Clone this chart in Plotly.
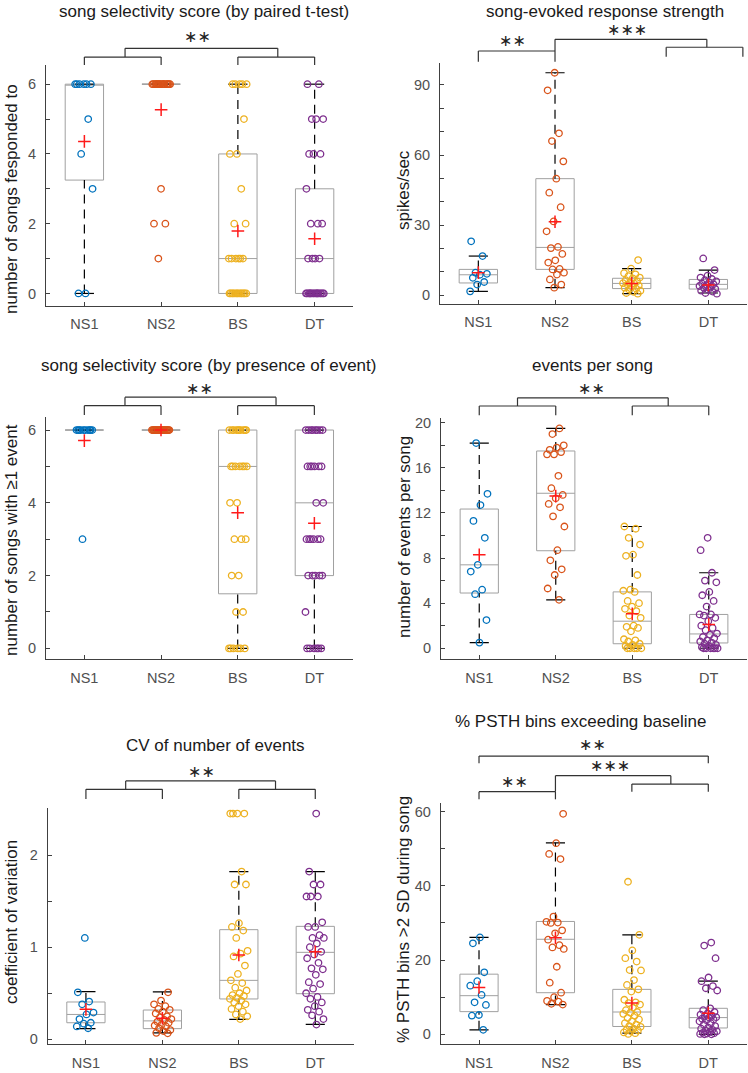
import plotly.graph_objects as go

W, H = 748, 1073
groups = ["NS1", "NS2", "BS", "DT"]
group_colors = ["#0072BD", "#D95319", "#EDB120", "#7E2F8E"]

# ---------- panel 1: song selectivity score (by paired t-test) ----------
p1_ns1 = [6, 6, 6, 6, 6, 6, 5, 4, 3, 0, 0]
p1_ns2 = [6, 6, 6, 6, 6, 6, 6, 6, 6, 6, 6, 6, 6, 6, 6, 6, 6, 6, 3, 2, 2, 1]
p1_bs = [6, 6, 6, 6, 6, 5, 4, 4, 3, 2, 2, 1, 1, 1, 1, 1, 1,
         0, 0, 0, 0, 0, 0, 0, 0, 0, 0, 0, 0, 0]
p1_dt = [6, 6, 5, 5, 5, 4, 4, 4, 3, 2, 2, 2, 1, 1, 1, 1,
         0, 0, 0, 0, 0, 0, 0, 0, 0, 0, 0, 0, 0, 0, 0, 0]
p1_q1 = [3.25, 6, 0, 0]
p1_med = [6, 6, 1, 1]
p1_q3 = [6, 6, 4, 3]
p1_wlo = [0, 6, 0, 0]
p1_whi = [6, 6, 6, 6]
p1_mean = [4.36, 5.27, 1.79, 1.57]

# ---------- panel 2: song-evoked response strength ----------
p2_ns1 = [23.1, 16.8, 9.7, 9.2, 8.8, 7.5, 5.7, 4.6, 1.7]
p2_ns2 = [95.2, 87.7, 69.3, 66.0, 57.3, 49.9, 43.9, 37.7, 31.6, 27.4, 20.7,
          20.2, 17.7, 15.0, 14.0, 11.3, 11.1, 9.7, 8.9, 6.8, 4.6, 3.3]
p2_bs = [15.1, 11.4, 9.5, 9.0, 8.2, 7.6, 7.3, 6.5, 6.0, 5.5, 5.2, 5.0, 4.6,
         4.2, 3.8, 3.3, 2.9, 2.5, 2.0, 1.5, 1.0, 0.7]
p2_dt = [15.8, 10.8, 8.4, 7.6, 7.0, 6.5, 6.0, 5.5, 5.0, 4.7, 4.4, 4.0, 3.6,
         3.2, 2.8, 2.4, 2.0, 1.6, 1.0, 0.7]
p2_q1 = [5.3, 11.1, 2.9, 2.7]
p2_med = [8.8, 20.5, 5.1, 4.7]
p2_q3 = [11.1, 49.9, 7.3, 6.8]
p2_wlo = [1.7, 3.3, 0.7, 1.0]
p2_whi = [16.8, 95.2, 11.4, 10.8]
p2_mean = [9.7, 31.5, 5.1, 4.4]

# ---------- panel 3: song selectivity score (by presence of event) ----------
p3_ns1 = [6, 6, 6, 6, 6, 6, 6, 6, 6, 6, 3]
p3_ns2 = [6, 6, 6, 6, 6, 6, 6, 6, 6, 6, 6, 6, 6, 6, 6, 6, 6, 6, 6, 6, 6, 6]
p3_bs = [6, 6, 6, 6, 6, 6, 6, 6, 6, 6, 5, 5, 5, 5, 5, 5, 5, 4, 4, 3, 3, 3,
         2, 2, 1, 1, 0, 0, 0, 0, 0, 0]
p3_dt = [6, 6, 6, 6, 6, 6, 6, 6, 5, 5, 5, 5, 5, 5, 4, 4, 3, 3, 3, 3, 3, 3,
         2, 2, 2, 2, 2, 1, 0, 0, 0, 0, 0, 0]
p3_q1 = [6, 6, 1.5, 2]
p3_med = [6, 6, 5, 4]
p3_q3 = [6, 6, 6, 6]
p3_wlo = [6, 6, 0, 0]
p3_whi = [6, 6, 6, 6]
p3_mean = [5.71, 6.0, 3.73, 3.44]

# ---------- panel 4: events per song ----------
p4_ns1 = [18.2, 13.7, 12.7, 11.3, 9.8, 7.4, 6.8, 5.2, 4.8, 2.5, 0.5]
p4_ns2 = [19.5, 19.0, 18.0, 17.8, 17.6, 17.4, 17.2, 17.2, 15.3, 14.2, 13.6,
          13.3, 12.8, 12.5, 11.7, 10.8, 8.7, 7.8, 7.0, 6.5, 5.3, 4.3]
p4_bs = [10.8, 10.6, 9.8, 9.2, 8.3, 8.2, 6.5, 5.2, 5.1, 5.0, 4.2, 4.0, 3.7,
         3.5, 3.3, 2.9, 2.7, 2.0, 1.9, 1.8, 1.5, 0.8, 0.7, 0.6, 0.4, 0.3, 0.2,
         0.0, 0.0, 0.0, 0.0, 0.0]
p4_dt = [9.8, 8.7, 6.7, 6.0, 5.85, 5.0, 4.7, 4.2, 3.7, 3.0, 3.0, 2.9, 2.7,
         2.4, 2.0, 1.8, 1.6, 1.3, 1.2, 1.0, 0.9, 0.7, 0.6, 0.5, 0.4, 0.3, 0.2,
         0.1, 0.0, 0.0, 0.0, 0.0, 0.0, 0.0]
p4_q1 = [4.9, 8.65, 0.4, 0.47]
p4_med = [7.4, 13.75, 2.4, 1.27]
p4_q3 = [12.35, 17.5, 5.0, 3.0]
p4_wlo = [0.5, 4.3, 0.0, 0.0]
p4_whi = [18.2, 19.5, 10.8, 6.7]
p4_mean = [8.3, 13.5, 3.05, 2.1]

# ---------- panel 5: CV of number of events ----------
p5_ns1 = [1.10, 0.51, 0.41, 0.38, 0.29, 0.27, 0.22, 0.18, 0.17, 0.14, 0.12]
p5_ns2 = [0.51, 0.42, 0.38, 0.36, 0.33, 0.32, 0.30, 0.28, 0.25, 0.24, 0.22,
          0.21, 0.19, 0.18, 0.16, 0.15, 0.14, 0.12, 0.10, 0.09, 0.07, 0.065]
p5_bs = [2.45, 2.45, 2.45, 2.45, 1.82, 1.68, 1.68, 1.26, 1.22, 1.18, 1.10,
         0.96, 0.93, 0.90, 0.80, 0.71, 0.64, 0.61, 0.56, 0.53, 0.50, 0.48,
         0.47, 0.45, 0.44, 0.42, 0.40, 0.38, 0.36, 0.33, 0.30, 0.27, 0.25, 0.22]
p5_dt = [2.45, 1.82, 1.68, 1.68, 1.55, 1.55, 1.55, 1.27, 1.22, 1.22, 1.13,
         1.10, 1.10, 1.04, 1.00, 0.95, 0.92, 0.88, 0.83, 0.77, 0.76, 0.70,
         0.62, 0.60, 0.55, 0.50, 0.46, 0.44, 0.40, 0.36, 0.32, 0.30, 0.26,
         0.22, 0.16]
p5_q1 = [0.18, 0.116, 0.438, 0.495]
p5_med = [0.27, 0.20, 0.64, 0.944]
p5_q3 = [0.405, 0.318, 1.19, 1.226]
p5_wlo = [0.116, 0.07, 0.217, 0.163]
p5_whi = [0.517, 0.514, 1.82, 1.82]
p5_mean = [0.325, 0.228, 0.915, 0.95]

# ---------- panel 6: % PSTH bins exceeding baseline ----------
p6_ns1 = [26.1, 24.5, 16.7, 14.3, 13.1, 10.6, 8.6, 7.9, 5.2, 5.0, 1.2]
p6_ns2 = [59.4, 51.5, 48.6, 47.2, 31.7, 30.3, 30.1, 30.0, 28.0, 27.2, 25.5,
          24.0, 23.4, 23.0, 18.2, 13.9, 11.2, 10.0, 9.0, 8.8, 8.2, 8.0]
p6_bs = [41.1, 26.8, 22.6, 20.5, 19.6, 17.3, 17.2, 14.6, 13.3, 12.1, 11.5,
         9.3, 8.6, 8.4, 8.0, 7.2, 6.5, 6.0, 5.8, 5.5, 5.0, 4.4, 4.0, 3.5, 3.0,
         2.6, 2.2, 2.0, 1.5, 1.2, 1.0, 0.8, 0.5, 0.3, 0.1]
p6_dt = [24.7, 23.9, 20.5, 15.3, 14.3, 13.0, 12.4, 11.8, 7.0, 6.5, 6.0, 5.6,
         5.3, 5.0, 4.9, 4.6, 4.5, 4.2, 4.0, 3.8, 3.5, 3.0, 2.6, 2.2, 1.8, 1.5,
         1.2, 1.0, 0.8, 0.6, 0.4, 0.3, 0.2, 0.1, 0.0, 0.0]
p6_q1 = [6.1, 11.2, 2.1, 1.7]
p6_med = [10.4, 25.6, 6.0, 4.5]
p6_q3 = [16.2, 30.4, 12.1, 7.0]
p6_wlo = [1.2, 8.0, 0.3, 0.0]
p6_whi = [26.1, 51.6, 26.8, 14.3]
p6_mean = [12.6, 26.0, 8.4, 5.7]

titles = ["song selectivity score (by paired t-test)",
          "song-evoked response strength",
          "song selectivity score (by presence of event)",
          "events per song",
          "CV of number of events",
          "% PSTH bins exceeding baseline"]
ylabels = ["number of songs fesponded to",
           "spikes/sec",
           "number of songs with \u22651 event",
           "number of events per song",
           "coefficient of variation",
           "% PSTH bins >2 SD during song"]

S2 = "\u2217\u2217"
S3 = "\u2217\u2217\u2217"

# ---------- layout (pixels) ----------
panels = [
    dict(pts=[p1_ns1, p1_ns2, p1_bs, p1_dt], q1=p1_q1, med=p1_med, q3=p1_q3,
         wlo=p1_wlo, whi=p1_whi, mean=p1_mean,
         box=(46, 353, 65, 306), yr=(-0.36, 6.55), dtick=2, minor=1,
         title=(204, 11), ylab=(11, 199),
         brackets=[(1, 2, 1.033, 1.0, 1.0), (3, 4, 1.033, 1.0, 1.0),
                   (1.53, 3.52, 1.069, 1.033, 1.033)],
         stars=[(S2, 2.47, 1.117)]),
    dict(pts=[p2_ns1, p2_ns2, p2_bs, p2_dt], q1=p2_q1, med=p2_med, q3=p2_q3,
         wlo=p2_wlo, whi=p2_whi, mean=p2_mean,
         box=(440, 746.7, 62.7, 304), yr=(-3.7, 99.5), dtick=30, minor=10,
         title=(605, 11), ylab=(403, 190),
         brackets=[(1, 2, 1.0485, 1.004, 1.004), (2, 3.98, 1.097, 1.0485, 1.064),
                   (3.45, 4.45, 1.064, 1.025, 1.025)],
         stars=[(S2, 1.45, 1.094), (S3, 2.94, 1.138)]),
    dict(pts=[p3_ns1, p3_ns2, p3_bs, p3_dt], q1=p3_q1, med=p3_med, q3=p3_q3,
         wlo=p3_wlo, whi=p3_whi, mean=p3_mean,
         box=(46, 352.7, 417.3, 659.3), yr=(-0.3, 6.35), dtick=2, minor=1,
         title=(208, 366), ylab=(11, 540),
         brackets=[(1, 2, 1.048, 1.009, 1.009), (3, 4, 1.048, 1.009, 1.009),
                   (1.53, 3.5, 1.083, 1.048, 1.048)],
         stars=[(S2, 2.5, 1.12)]),
    dict(pts=[p4_ns1, p4_ns2, p4_bs, p4_dt], q1=p4_q1, med=p4_med, q3=p4_q3,
         wlo=p4_wlo, whi=p4_whi, mean=p4_mean,
         box=(441, 747, 418.3, 659.3), yr=(-0.98, 20.4), dtick=4, minor=2,
         title=(592, 366), ylab=(404, 537),
         brackets=[(1, 2, 1.051, 1.013, 1.013), (3, 4, 1.051, 1.013, 1.013),
                   (1.5, 3.47, 1.085, 1.051, 1.051)],
         stars=[(S2, 2.47, 1.122)]),
    dict(pts=[p5_ns1, p5_ns2, p5_bs, p5_dt], q1=p5_q1, med=p5_med, q3=p5_q3,
         wlo=p5_wlo, whi=p5_whi, mean=p5_mean,
         box=(47.7, 353.5, 808.3, 1044.3), yr=(-0.054, 2.507), dtick=1, minor=0.5,
         title=(215, 745), ylab=(11, 922),
         brackets=[(1, 2, 1.0805, 1.0395, 1.0395), (3, 4, 1.0805, 1.0395, 1.0395),
                   (1.52, 3.48, 1.116, 1.0805, 1.0805)],
         stars=[(S2, 2.51, 1.157)]),
    dict(pts=[p6_ns1, p6_ns2, p6_bs, p6_dt], q1=p6_q1, med=p6_med, q3=p6_q3,
         wlo=p6_wlo, whi=p6_whi, mean=p6_mean,
         box=(440.8, 746.5, 802.7, 1044.3), yr=(-2.7, 62.4), dtick=20, minor=10,
         title=(580, 721), ylab=(403, 920),
         brackets=[(1, 4, 1.193, 1.163, 1.163), (2, 3.51, 1.112, 1.0455, 1.077),
                   (3, 4, 1.077, 1.0455, 1.0455), (1, 2, 1.0455, 1.014, 1.014)],
         stars=[(S2, 2.48, 1.239), (S3, 2.72, 1.156), (S2, 1.46, 1.087)]),
]

FONT = "Liberation Sans, Arial, Helvetica, sans-serif"
STARFONT = "DejaVu Sans, sans-serif"
AXC = "#404040"
TICKC = "#505050"
BOXC = "#a0a0a0"
XR = (0.5, 4.5)
JIT = 0.12

fig = go.Figure()
shapes, annotations = [], []
layout = {}

for k, p in enumerate(panels):
    sfx = "" if k == 0 else str(k + 1)
    xa, ya = "x" + sfx, "y" + sfx
    xs = [1, 2, 3, 4]

    # boxes (quartiles + median) through plotly's box trace
    fig.add_trace(go.Box(
        x=xs, q1=p["q1"], median=p["med"], q3=p["q3"],
        lowerfence=p["q1"], upperfence=p["q3"], width=0.5, whiskerwidth=0,
        line=dict(color=BOXC, width=1), fillcolor="rgba(0,0,0,0)",
        boxpoints=False, xaxis=xa, yaxis=ya, showlegend=False, hoverinfo="skip"))

    # dashed whiskers
    wx, wy, cx, cy = [], [], [], []
    for i, xi in enumerate(xs):
        if p["wlo"][i] < p["q1"][i]:
            wx += [xi, xi, None]
            wy += [p["wlo"][i], p["q1"][i], None]
        if p["whi"][i] > p["q3"][i]:
            wx += [xi, xi, None]
            wy += [p["q3"][i], p["whi"][i], None]
        for v in (p["wlo"][i], p["whi"][i]):
            cx += [xi - 0.125, xi + 0.125, None]
            cy += [v, v, None]
    fig.add_trace(go.Scatter(x=wx, y=wy, mode="lines", xaxis=xa, yaxis=ya,
                             line=dict(color="black", width=1.2, dash="9px,6px"),
                             showlegend=False, hoverinfo="skip"))
    fig.add_trace(go.Scatter(x=cx, y=cy, mode="lines", xaxis=xa, yaxis=ya,
                             line=dict(color="black", width=1.2),
                             showlegend=False, hoverinfo="skip"))

    # jittered points
    for g, vals in enumerate(p["pts"]):
        jx = [g + 1 + ((i * 0.6180339887 + g * 0.37 + k * 0.11) % 1.0 - 0.5) * 2 * JIT
              for i in range(len(vals))]
        fig.add_trace(go.Scatter(
            x=jx, y=vals, mode="markers", xaxis=xa, yaxis=ya,
            marker=dict(symbol="circle-open", size=6.5, color=group_colors[g],
                        line=dict(width=1.3, color=group_colors[g])),
            showlegend=False, cliponaxis=False, hoverinfo="skip"))

    # means
    fig.add_trace(go.Scatter(
        x=xs, y=p["mean"], mode="markers", xaxis=xa, yaxis=ya,
        marker=dict(symbol="cross-thin", size=9, color="#ff1a1a",
                    line=dict(width=1.5, color="#ff1a1a")),
        showlegend=False, hoverinfo="skip"))

    l, r, t, b = p["box"]
    layout["xaxis" + sfx] = dict(
        domain=[l / W, r / W], anchor=ya, range=list(XR), automargin=False,
        tickmode="array", tickvals=xs, ticktext=groups,
        ticks="inside", ticklen=4, tickcolor=AXC, showline=True, linecolor=AXC,
        linewidth=1, showgrid=False, zeroline=False, ticklabelstandoff=5,
        tickfont=dict(family=FONT, size=14.5, color=TICKC))
    layout["yaxis" + sfx] = dict(
        domain=[1 - b / H, 1 - t / H], anchor=xa, range=list(p["yr"]),
        automargin=False,
        tickmode="linear", tick0=0, dtick=p["dtick"],
        ticks="inside", ticklen=4, tickcolor=AXC, showline=True, linecolor=AXC,
        linewidth=1, showgrid=False, zeroline=False, ticklabelstandoff=6,
        minor=dict(tickmode="linear", tick0=0, dtick=p["minor"], ticks="inside",
                   ticklen=4, tickcolor=AXC, showgrid=False),
        tickfont=dict(family=FONT, size=14.5, color=TICKC))

    # brackets (x in data units -> x-domain fraction, y in y-domain fraction)
    def xd(x):
        return (x - XR[0]) / (XR[1] - XR[0])
    for (x1, x2, ytop, yb1, yb2) in p["brackets"]:
        for (ax0, ay0, ax1, ay1) in [(x1, yb1, x1, ytop), (x1, ytop, x2, ytop),
                                     (x2, ytop, x2, yb2)]:
            shapes.append(dict(type="line", xref=xa + " domain", yref=ya + " domain",
                               x0=xd(ax0), y0=ay0, x1=xd(ax1), y1=ay1,
                               line=dict(color="#333333", width=1.2)))
    for (txt, sx, sy) in p["stars"]:
        annotations.append(dict(text=txt, xref=xa + " domain", yref=ya + " domain",
                                x=xd(sx), y=sy, showarrow=False, xanchor="center",
                                yanchor="middle", yshift=0,
                                font=dict(family=STARFONT, size=16, color="#222222")))

    # titles and y labels
    tx, ty = p["title"]
    annotations.append(dict(text=titles[k], xref="paper", yref="paper",
                            x=tx / W, y=1 - ty / H, showarrow=False,
                            xanchor="center", yanchor="middle",
                            font=dict(family=FONT, size=17, color="#1a1a1a")))
    lx, ly = p["ylab"]
    annotations.append(dict(text=ylabels[k], xref="paper", yref="paper",
                            x=lx / W, y=1 - ly / H, showarrow=False, textangle=-90,
                            xanchor="center", yanchor="middle",
                            font=dict(family=FONT, size=17, color="#1a1a1a")))

fig.update_layout(
    width=W, height=H, margin=dict(l=0, r=0, t=0, b=0, autoexpand=False),
    paper_bgcolor="white", plot_bgcolor="white",
    shapes=shapes, annotations=annotations, showlegend=False, **layout)

fig.write_html("out.html",
               config={"displayModeBar": False, "staticPlot": True},
               post_script="document.body.style.margin='0';"
                           "document.body.style.overflow='hidden';")
